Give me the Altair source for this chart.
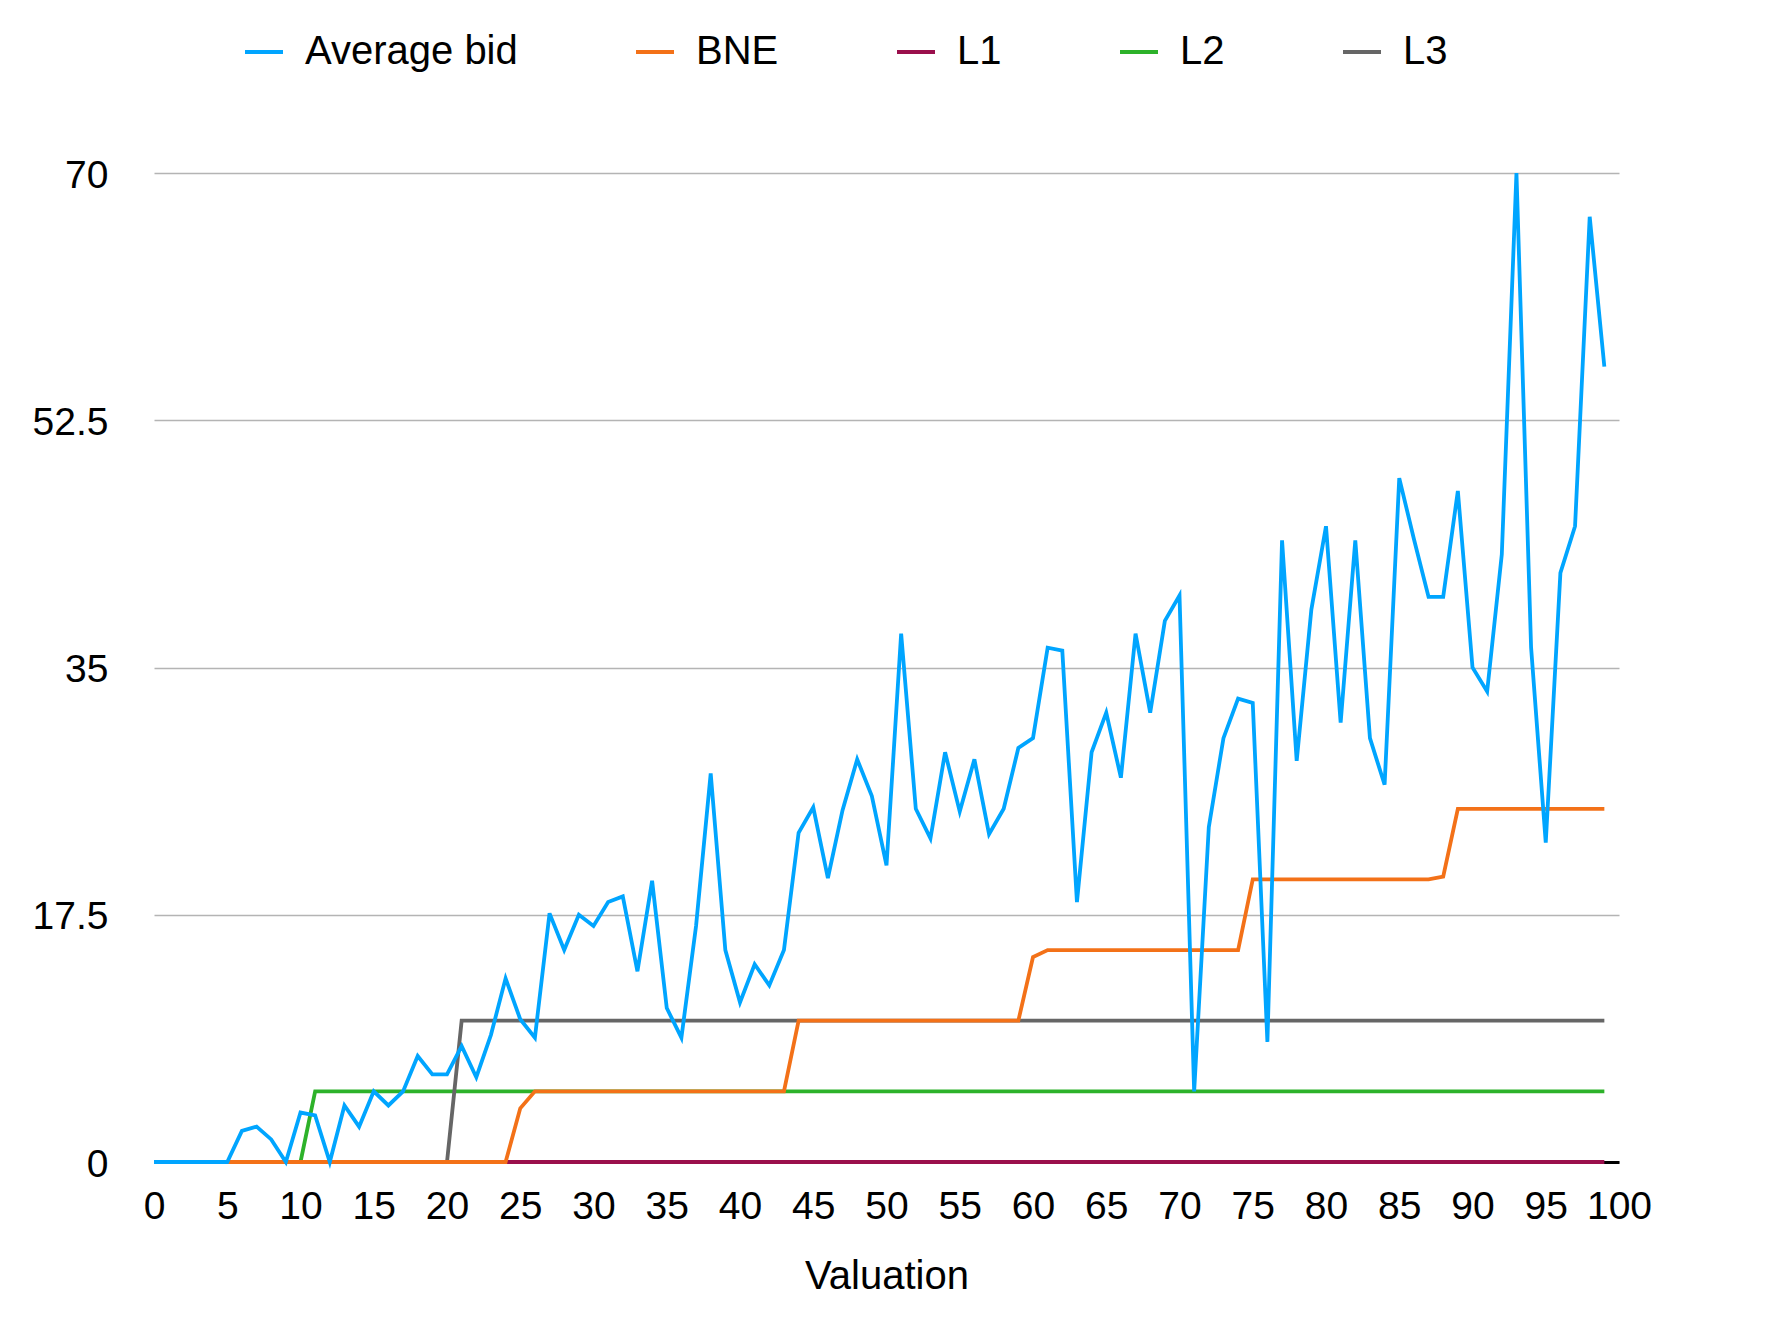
import altair as alt
import pandas as pd

valuation = list(range(100))

average_bid = [
    0, 0, 0, 0, 0, 0, 2.2, 2.5, 1.6, 0,
    3.5, 3.3, 0, 4.0, 2.5, 5.0, 4.0, 5.0, 7.5, 6.2,
    6.2, 8.2, 6.0, 9.0, 13.0, 10.1, 8.8, 17.6, 15.0, 17.5,
    16.7, 18.4, 18.8, 13.5, 19.9, 10.9, 8.8, 16.7, 27.5, 15.0,
    11.3, 14.0, 12.5, 15.0, 23.3, 25.1, 20.1, 24.9, 28.5, 25.9,
    21.0, 37.4, 25.0, 22.9, 29.0, 24.8, 28.5, 23.2, 25.0, 29.3,
    30.0, 36.4, 36.2, 18.4, 29.0, 31.8, 27.2, 37.4, 31.8, 38.3,
    40.1, 5.0, 23.7, 30.0, 32.8, 32.5, 8.5, 44.0, 28.4, 39.1,
    45.0, 31.1, 44.0, 30.0, 26.7, 48.4, 44.1, 40.0, 40.0, 47.5,
    35.0, 33.3, 43.0, 70.0, 36.4, 22.6, 41.7, 45.0, 66.9, 56.3,
]

bne = [
    0, 0, 0, 0, 0, 0, 0, 0, 0, 0,
    0, 0, 0, 0, 0, 0, 0, 0, 0, 0,
    0, 0, 0, 0, 0, 3.8, 5, 5, 5, 5,
    5, 5, 5, 5, 5, 5, 5, 5, 5, 5,
    5, 5, 5, 5, 10, 10, 10, 10, 10, 10,
    10, 10, 10, 10, 10, 10, 10, 10, 10, 10,
    14.5, 15, 15, 15, 15, 15, 15, 15, 15, 15,
    15, 15, 15, 15, 15, 20, 20, 20, 20, 20,
    20, 20, 20, 20, 20, 20, 20, 20, 20.2, 25,
    25, 25, 25, 25, 25, 25, 25, 25, 25, 25,
]

l1 = [
    0, 0, 0, 0, 0, 0, 0, 0, 0, 0,
    0, 0, 0, 0, 0, 0, 0, 0, 0, 0,
    0, 0, 0, 0, 0, 0, 0, 0, 0, 0,
    0, 0, 0, 0, 0, 0, 0, 0, 0, 0,
    0, 0, 0, 0, 0, 0, 0, 0, 0, 0,
    0, 0, 0, 0, 0, 0, 0, 0, 0, 0,
    0, 0, 0, 0, 0, 0, 0, 0, 0, 0,
    0, 0, 0, 0, 0, 0, 0, 0, 0, 0,
    0, 0, 0, 0, 0, 0, 0, 0, 0, 0,
    0, 0, 0, 0, 0, 0, 0, 0, 0, 0,
]

l2 = [
    0, 0, 0, 0, 0, 0, 0, 0, 0, 0,
    0, 5, 5, 5, 5, 5, 5, 5, 5, 5,
    5, 5, 5, 5, 5, 5, 5, 5, 5, 5,
    5, 5, 5, 5, 5, 5, 5, 5, 5, 5,
    5, 5, 5, 5, 5, 5, 5, 5, 5, 5,
    5, 5, 5, 5, 5, 5, 5, 5, 5, 5,
    5, 5, 5, 5, 5, 5, 5, 5, 5, 5,
    5, 5, 5, 5, 5, 5, 5, 5, 5, 5,
    5, 5, 5, 5, 5, 5, 5, 5, 5, 5,
    5, 5, 5, 5, 5, 5, 5, 5, 5, 5,
]

l3 = [
    0, 0, 0, 0, 0, 0, 0, 0, 0, 0,
    0, 0, 0, 0, 0, 0, 0, 0, 0, 0,
    0, 10, 10, 10, 10, 10, 10, 10, 10, 10,
    10, 10, 10, 10, 10, 10, 10, 10, 10, 10,
    10, 10, 10, 10, 10, 10, 10, 10, 10, 10,
    10, 10, 10, 10, 10, 10, 10, 10, 10, 10,
    10, 10, 10, 10, 10, 10, 10, 10, 10, 10,
    10, 10, 10, 10, 10, 10, 10, 10, 10, 10,
    10, 10, 10, 10, 10, 10, 10, 10, 10, 10,
    10, 10, 10, 10, 10, 10, 10, 10, 10, 10,
]

series_names = ["Average bid", "BNE", "L1", "L2", "L3"]
series_colors = ["#00a5ff", "#f37118", "#9a0f4c", "#2db22a", "#666666"]
series_values = [average_bid, bne, l1, l2, l3]

y_ticks = [0, 17.5, 35, 52.5, 70]
x_ticks = list(range(0, 101, 5))

rows = []
for name, vals in zip(series_names, series_values):
    for v, b in zip(valuation, vals):
        rows.append({"Valuation": v, "bid": b, "series": name})
df = pd.DataFrame(rows)

FONT = "Liberation Sans"

base = alt.Chart(df).mark_line(strokeWidth=3.8).encode(
    x=alt.X(
        "Valuation:Q",
        scale=alt.Scale(domain=[0, 100], nice=False, zero=False),
        axis=alt.Axis(
            values=x_ticks,
            title="Valuation",
            grid=False,
            ticks=False,
            tickSize=0,
            domain=True,
            domainColor="#000000",
            domainWidth=3,
            labelFontSize=39,
            labelFont=FONT,
            labelColor="#000000",
            labelPadding=25,
            labelFlush=False,
            labelOverlap=False,
            titleFontSize=40,
            titleFont=FONT,
            titleFontWeight="normal",
            titleColor="#000000",
            titlePadding=30,
        ),
    ),
    y=alt.Y(
        "bid:Q",
        scale=alt.Scale(domain=[0, 70], nice=False),
        axis=alt.Axis(
            values=y_ticks,
            title=None,
            format=".3~g",
            grid=True,
            gridColor="#b4b4b4",
            gridWidth=1.6,
            ticks=False,
            tickSize=0,
            domain=False,
            labelFontSize=39,
            labelFont=FONT,
            labelColor="#000000",
            labelPadding=46,
            labelBaseline="middle",
            labelOffset=2,
        ),
    ),
    color=alt.Color(
        "series:N",
        scale=alt.Scale(domain=series_names, range=series_colors),
        sort=series_names,
        legend=alt.Legend(
            title=None,
            orient="none",
            legendX=89,
            legendY=-142,
            direction="horizontal",
            columns=5,
            symbolType="stroke",
            symbolSize=1444,
            symbolStrokeWidth=4,
            labelFontSize=40,
            labelFont=FONT,
            labelColor="#000000",
            labelLimit=500,
            labelOffset=20,
            columnPadding=110,
            padding=0,
        ),
    ),
)

draw_order = ["L1", "L2", "L3", "BNE", "Average bid"]
layers = [base.transform_filter(alt.datum.series == s) for s in draw_order]

chart = alt.layer(*layers).properties(
    width=1465,
    height=989,
    autosize=alt.AutoSizeParams(type="none"),
    padding={"left": 146, "top": 165, "right": 140, "bottom": 150},
).configure(
    font=FONT,
    background="white",
    view=alt.ViewConfig(stroke=None),
)

chart.save("out.html", embed_options={"renderer": "svg", "actions": False})
